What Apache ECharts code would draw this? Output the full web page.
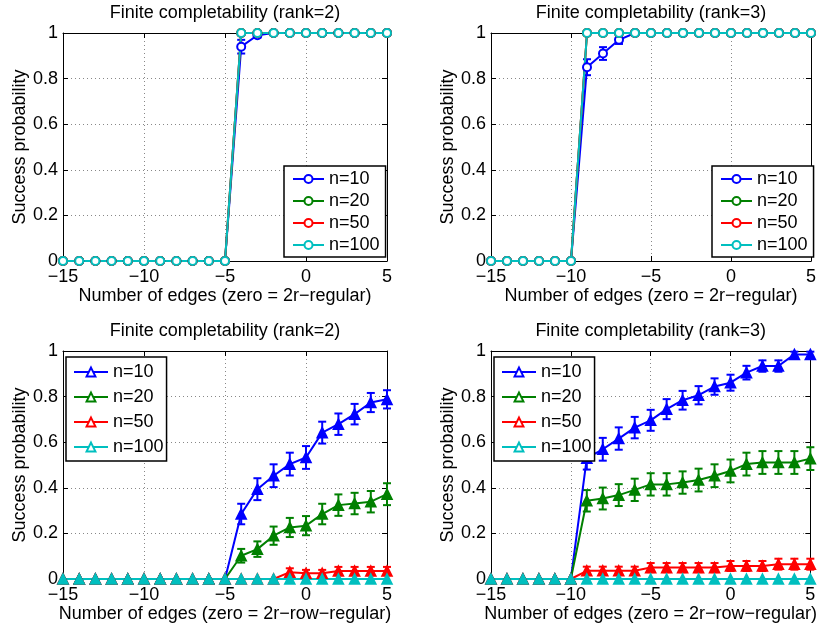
<!DOCTYPE html>
<html><head><meta charset="utf-8">
<script src="https://cdn.jsdelivr.net/npm/echarts@6/dist/echarts.min.js"></script>
<style>html,body{margin:0;padding:0;background:#fff}#c{width:819px;height:625px}</style>
</head><body><div id="c"></div>
<script>
// ---------- data ----------
const xValues = [-15,-14,-13,-12,-11,-10,-9,-8,-7,-6,-5,-4,-3,-2,-1,0,1,2,3,4,5];
const seriesNames = ['n=10','n=20','n=50','n=100'];
const titles = ['Finite completability (rank=2)','Finite completability (rank=3)','Finite completability (rank=2)','Finite completability (rank=3)'];
const xAxisNames = ['Number of edges (zero = 2r\u2212regular)','Number of edges (zero = 2r\u2212regular)','Number of edges (zero = 2r\u2212row\u2212regular)','Number of edges (zero = 2r\u2212row\u2212regular)'];
const yAxisName = 'Success probability';
const xTickLabels = ['\u221215','\u221210','\u22125','0','5'];
const yTickLabels = ['0','0.2','0.4','0.6','0.8','1'];

// top-left (rank=2, 2r-regular)
const a_n10     = [0,0,0,0,0,0,0,0,0,0,0,0.94,0.99,1,1,1,1,1,1,1,1];
const a_n10_err = [0,0,0,0,0,0,0,0,0,0,0,0.03,0.01,0,0,0,0,0,0,0,0];
const a_n20     = [0,0,0,0,0,0,0,0,0,0,0,1,1,1,1,1,1,1,1,1,1];
const a_n20_err = [0,0,0,0,0,0,0,0,0,0,0,0,0,0,0,0,0,0,0,0,0];
const a_n50     = [0,0,0,0,0,0,0,0,0,0,0,1,1,1,1,1,1,1,1,1,1];
const a_n50_err = [0,0,0,0,0,0,0,0,0,0,0,0,0,0,0,0,0,0,0,0,0];
const a_n100    = [0,0,0,0,0,0,0,0,0,0,0,1,1,1,1,1,1,1,1,1,1];
const a_n100_err= [0,0,0,0,0,0,0,0,0,0,0,0,0,0,0,0,0,0,0,0,0];

// top-right (rank=3, 2r-regular)
const b_n10     = [0,0,0,0,0,0,0.85,0.91,0.97,1,1,1,1,1,1,1,1,1,1,1,1];
const b_n10_err = [0,0,0,0,0,0,0.035,0.028,0.018,0,0,0,0,0,0,0,0,0,0,0,0];
const b_n20     = [0,0,0,0,0,0,1,1,1,1,1,1,1,1,1,1,1,1,1,1,1];
const b_n20_err = [0,0,0,0,0,0,0,0,0,0,0,0,0,0,0,0,0,0,0,0,0];
const b_n50     = [0,0,0,0,0,0,1,1,1,1,1,1,1,1,1,1,1,1,1,1,1];
const b_n50_err = [0,0,0,0,0,0,0,0,0,0,0,0,0,0,0,0,0,0,0,0,0];
const b_n100    = [0,0,0,0,0,0,1,1,1,1,1,1,1,1,1,1,1,1,1,1,1];
const b_n100_err= [0,0,0,0,0,0,0,0,0,0,0,0,0,0,0,0,0,0,0,0,0];

// bottom-left (rank=2, 2r-row-regular)
const c_n10     = [0,0,0,0,0,0,0,0,0,0,0,0.285,0.394,0.453,0.504,0.533,0.642,0.679,0.723,0.774,0.788];
const c_n10_err = [0,0,0,0,0,0,0,0,0,0,0,0.045,0.048,0.05,0.05,0.05,0.048,0.047,0.045,0.042,0.04];
const c_n20     = [0,0,0,0,0,0,0,0,0,0,0,0.102,0.131,0.19,0.226,0.234,0.285,0.324,0.331,0.339,0.372];
const c_n20_err = [0,0,0,0,0,0,0,0,0,0,0,0.03,0.034,0.04,0.042,0.042,0.045,0.047,0.047,0.047,0.048];
const c_n50     = [0,0,0,0,0,0,0,0,0,0,0,0,0,0,0.03,0.025,0.025,0.035,0.035,0.035,0.035];
const c_n50_err = [0,0,0,0,0,0,0,0,0,0,0,0,0,0,0.017,0.015,0.015,0.018,0.018,0.018,0.018];
const c_n100    = [0,0,0,0,0,0,0,0,0,0,0,0,0,0,0,0,0,0,0,0,0];
const c_n100_err= [0,0,0,0,0,0,0,0,0,0,0,0,0,0,0,0,0,0,0,0,0];

// bottom-right (rank=3, 2r-row-regular)
const d_n10     = [0,0,0,0,0,0,0.53,0.569,0.616,0.664,0.696,0.745,0.784,0.806,0.844,0.861,0.905,0.934,0.934,0.985,0.985];
const d_n10_err = [0,0,0,0,0,0,0.05,0.05,0.049,0.047,0.046,0.044,0.041,0.04,0.036,0.035,0.03,0.025,0.025,0.012,0.012];
const d_n20     = [0,0,0,0,0,0,0.343,0.353,0.368,0.391,0.415,0.415,0.423,0.434,0.453,0.474,0.504,0.511,0.511,0.511,0.528];
const d_n20_err = [0,0,0,0,0,0,0.047,0.048,0.048,0.049,0.049,0.049,0.049,0.05,0.05,0.05,0.05,0.05,0.05,0.05,0.05];
const d_n50     = [0,0,0,0,0,0,0.036,0.036,0.036,0.036,0.05,0.05,0.05,0.05,0.05,0.057,0.057,0.057,0.065,0.065,0.065];
const d_n50_err = [0,0,0,0,0,0,0.018,0.018,0.018,0.018,0.02,0.02,0.02,0.02,0.02,0.022,0.022,0.022,0.024,0.024,0.024];
const d_n100    = [0,0,0,0,0,0,0,0,0,0,0,0,0,0,0,0,0,0,0,0,0];
const d_n100_err= [0,0,0,0,0,0,0,0,0,0,0,0,0,0,0,0,0,0,0,0,0];

// ---------- layout / style ----------
const FONT = "'Liberation Sans', Arial, Helvetica, sans-serif";
const FS = 18;
const colors = ['#0000ff','#008000','#ff0000','#00bfbf'];
const panels = [
  {grid:{left:63,top:33,width:324,height:228}, vals:[a_n10,a_n20,a_n50,a_n100], errs:[a_n10_err,a_n20_err,a_n50_err,a_n100_err],
   symbol:'emptyCircle', symSize:8, legSymbol:'emptyCircle',
   legend:{left:284,top:166,padding:[4,6,3,8],itemGap:4,itemWidth:31,itemHeight:10}},
  {grid:{left:491,top:33,width:324,height:228}, vals:[b_n10,b_n20,b_n50,b_n100], errs:[b_n10_err,b_n20_err,b_n50_err,b_n100_err],
   symbol:'emptyCircle', symSize:8, legSymbol:'emptyCircle',
   legend:{left:712,top:166,padding:[4,6,3,8],itemGap:4,itemWidth:31,itemHeight:10}},
  {grid:{left:63,top:351,width:324,height:228}, vals:[c_n10,c_n20,c_n50,c_n100], errs:[c_n10_err,c_n20_err,c_n50_err,c_n100_err],
   symbol:'triangle', symSize:10, legSymbol:'emptyTriangle',
   legend:{left:66,top:357,padding:[6,3,5,7],itemGap:7,itemWidth:34,itemHeight:11}},
  {grid:{left:491,top:351,width:324,height:228}, vals:[d_n10,d_n20,d_n50,d_n100], errs:[d_n10_err,d_n20_err,d_n50_err,d_n100_err],
   symbol:'triangle', symSize:10, legSymbol:'emptyTriangle',
   legend:{left:494,top:357,padding:[6,3,5,7],itemGap:7,itemWidth:34,itemHeight:11}}
];

const xFmt = v => { const i = [-15,-10,-5,0,5].indexOf(v); return i >= 0 ? xTickLabels[i] : ''; };
const yFmt = v => { const i = Math.round(v / 0.2); return yTickLabels[i] !== undefined ? yTickLabels[i] : ''; };

const grids = [], xAxes = [], yAxes = [], legends = [], series = [];
const gridLine = {show:true, lineStyle:{color:'#888', type:[1,3], width:1}};
const axLine = {show:true, onZero:false, lineStyle:{color:'#000', width:1}};
const tick = {show:true, inside:true, length:5, lineStyle:{color:'#000', width:1}};
const txt = {color:'#000', fontFamily:FONT, fontSize:FS};

panels.forEach((p, pi) => {
  grids.push(Object.assign({containLabel:false}, p.grid));
  xAxes.push({type:'value', gridIndex:pi, position:'bottom', min:-15, max:5, interval:5,
    axisLine:axLine, axisTick:tick, splitLine:gridLine,
    axisLabel:Object.assign({margin:7, formatter:xFmt}, txt),
    name:xAxisNames[pi], nameLocation:'middle', nameGap:25, nameTextStyle:txt});
  xAxes.push({type:'value', gridIndex:pi, position:'top', min:-15, max:5, interval:5,
    axisLine:axLine, axisTick:tick, splitLine:{show:false}, axisLabel:{show:false},
    name:titles[pi], nameLocation:'middle', nameGap:11, nameTextStyle:txt});
  yAxes.push({type:'value', gridIndex:pi, position:'left', min:0, max:1, interval:0.2,
    axisLine:axLine, axisTick:tick, splitLine:gridLine,
    axisLabel:Object.assign({margin:5, formatter:yFmt}, txt),
    name:yAxisName, nameLocation:'middle', nameGap:34, nameTextStyle:txt});
  yAxes.push({type:'value', gridIndex:pi, position:'right', min:0, max:1, interval:0.2,
    axisLine:axLine, axisTick:tick, splitLine:{show:false}, axisLabel:{show:false}});
  const L = p.legend;
  legends.push({left:L.left, top:L.top, orient:'vertical', selectedMode:false, zlevel:1, z:20,
    backgroundColor:'#fff', borderColor:'#000', borderWidth:1.5, padding:L.padding,
    itemWidth:L.itemWidth, itemHeight:L.itemHeight, itemGap:L.itemGap, textStyle:txt,
    formatter:name => name.split('|')[0],
    data:seriesNames.map(n => n + '|' + pi)});
  seriesNames.forEach((name, si) => {
    const col = colors[si];
    const errData = xValues.map((x, i) => [x, p.vals[si][i], p.errs[si][i]]);
    series.push({type:'custom', name:'err' + pi + '_' + si, xAxisIndex:2*pi, yAxisIndex:2*pi,
      data:errData, silent:true, clip:false, z:2,
      renderItem:(params, api) => {
        const x = api.value(0), y = api.value(1), e = api.value(2);
        if (!e) return null;
        const t = api.coord([x, y + e]), b = api.coord([x, y - e]);
        const hw = 4, st = {stroke:col, lineWidth:2};
        return {type:'group', children:[
          {type:'line', shape:{x1:t[0], y1:t[1], x2:b[0], y2:b[1]}, style:st},
          {type:'line', shape:{x1:t[0]-hw, y1:t[1], x2:t[0]+hw, y2:t[1]}, style:st},
          {type:'line', shape:{x1:b[0]-hw, y1:b[1], x2:b[0]+hw, y2:b[1]}, style:st}
        ]};
      }});
    series.push({type:'line', name:'plot' + pi + '_' + si, xAxisIndex:2*pi, yAxisIndex:2*pi,
      data:xValues.map((x, i) => [x, p.vals[si][i]]), z:2,
      symbol:p.symbol, symbolSize:p.symSize, showAllSymbol:true, clip:false,
      lineStyle:{color:col, width:2}, itemStyle:{color:col, borderColor:col, borderWidth:1.6}});
  });
  // legend-only entries (no data)
  seriesNames.forEach((name, si) => {
    series.push({type:'line', name:name + '|' + pi, xAxisIndex:2*pi, yAxisIndex:2*pi, data:[],
      symbol:p.legSymbol, lineStyle:{color:colors[si], width:2},
      itemStyle:{color:colors[si], borderColor:colors[si]}});
  });
});

const chart = echarts.init(document.getElementById('c'), null, {renderer:'canvas'});
chart.setOption({
  animation:false, backgroundColor:'#fff', color:colors,
  grid:grids, xAxis:xAxes, yAxis:yAxes, legend:legends, series:series
});
</script></body></html>
